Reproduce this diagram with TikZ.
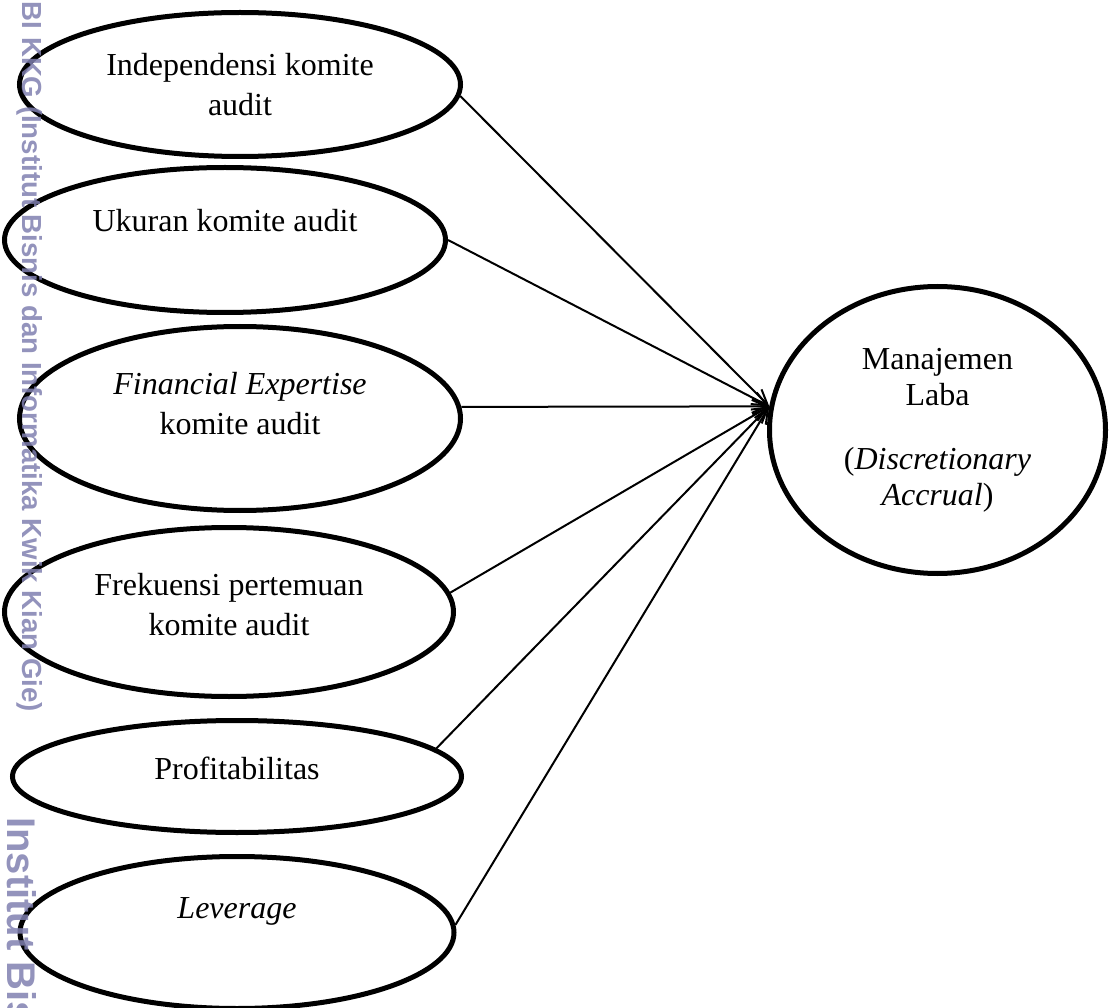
\documentclass[tikz,border=0pt]{standalone}
\usepackage{fontspec}
\setmainfont{Liberation Serif}
\newfontfamily\wmfont{Liberation Sans}
\usetikzlibrary{positioning, shapes.geometric, arrows.meta}
\definecolor{wm}{RGB}{128,128,176}

\begin{document}
\begin{tikzpicture}[x=1pt, y=-1pt, font=\fontsize{32}{40}\selectfont, e/.style={ellipse, draw, line width=5pt, inner sep=0pt, align=center}, a/.style={-{Straight Barb[length=15pt, width=13pt]}, line width=2pt}, w/.style={rotate=-90, anchor=base west, inner sep=0pt, text=wm, text opacity=0.85}]
		\useasboundingbox (0,0) rectangle (1109,1008);

		\node[e, minimum width=441pt, minimum height=144pt] (IKA) at (240,84.5) {Independensi komite\\audit};
		\node[e, minimum width=441pt, minimum height=145pt, below=6pt of IKA, xshift=-15pt] (UKA) {Ukuran komite audit\\~};
		\node[e, minimum width=441pt, minimum height=184pt, below=9pt of UKA, xshift=15pt] (FEK) {\textit{Financial Expertise}\\komite audit\\[-10pt]~};
		\node[e, minimum width=449pt, minimum height=169pt, below=12pt of FEK, xshift=-11pt] (FPK) {Frekuensi pertemuan\\komite audit\\[-24pt]~};
		\node[e, minimum width=449pt, minimum height=112pt, below=19pt of FPK, xshift=8pt] (PRO) {Profitabilitas\\[-24pt]~};
		\node[e, minimum width=434pt, minimum height=152pt, below=19pt of PRO] (LEV) {\textit{Leverage}\\[8pt]~};
		\node[e, minimum width=336pt, minimum height=287pt, right=304pt of FEK, yshift=-11.5pt, font=\fontsize{32}{36}\selectfont] (ML) {Manajemen\\Laba\\[28pt](\textit{Discretionary}\\\textit{Accrual})};

		\draw[a] (IKA.-3) -- (ML.172);
		\draw[a] (UKA.east) -- (ML.172);
		\draw[a] (FEK.3) -- (ML.172);
		\draw[a] (FPK.5) -- (ML.172);
		\draw[a] (PRO.8) -- (ML.172);
		\draw[a] (LEV.2) -- (ML.172);

		\node[w, font=\wmfont\bfseries\fontsize{27.6}{30}\selectfont] (WM1) at (22,-6) {IBI KKG (Institut Bisnis dan Informatika Kwik Kian Gie)};
		\node[w, font=\wmfont\bfseries\fontsize{40}{44}\selectfont] (WM2) at (8,817) {Institut Bis};
	\end{tikzpicture}
\end{document}
